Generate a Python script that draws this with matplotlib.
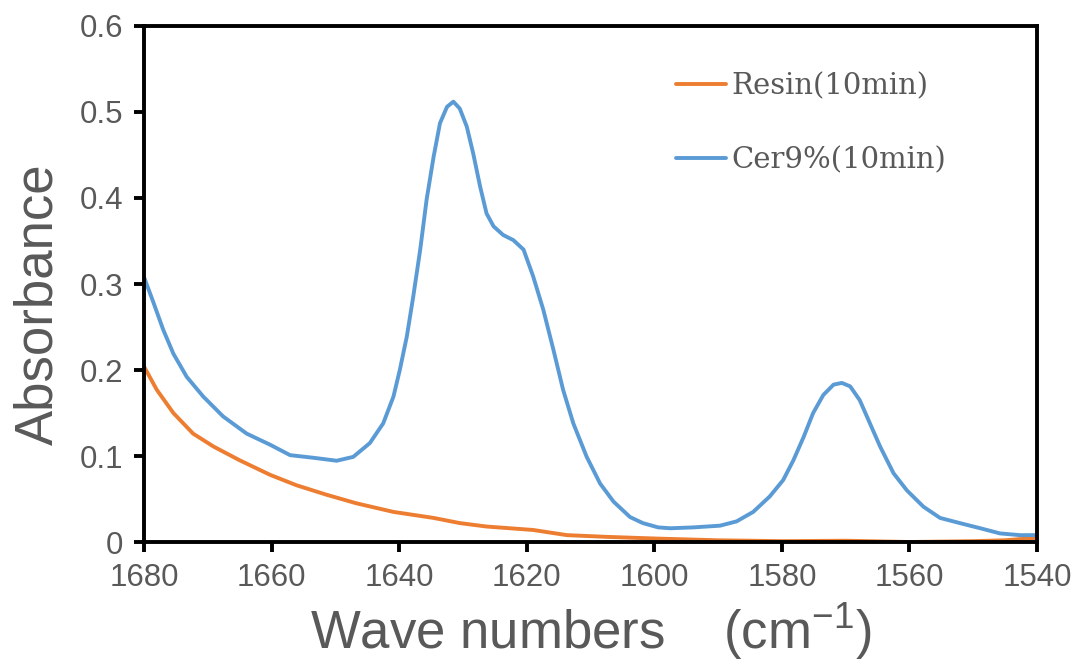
import numpy as np
import matplotlib.pyplot as plt
from matplotlib.ticker import FuncFormatter

# numeros de onda (cm-1) y absorbancia
onda_cer = [1680, 1678.5, 1677.0, 1675.4, 1673.3, 1670.7, 1667.6, 1663.9, 1660.2, 1657.1,
            1653.5, 1649.8, 1647.2, 1644.6, 1642.5, 1640.9, 1639.9, 1638.8, 1637.8, 1636.7,
            1635.7, 1634.6, 1633.6, 1632.5, 1631.5, 1630.5, 1629.4, 1628.4, 1627.3, 1626.3,
            1625.2, 1623.7, 1622.1, 1620.5, 1619.0, 1617.4, 1615.8, 1614.3, 1612.7, 1610.6,
            1608.5, 1606.4, 1603.8, 1601.8, 1599.4, 1597.5, 1593.9, 1589.7, 1587.1, 1584.5,
            1581.9, 1579.8, 1578.2, 1576.6, 1575.1, 1573.5, 1571.9, 1570.6, 1569.3, 1567.8,
            1566.2, 1564.6, 1562.5, 1560.4, 1557.8, 1555.2, 1552.1, 1548.9, 1545.8, 1542.7,
            1540]
abs_cer = [0.308, 0.278, 0.247, 0.219, 0.192, 0.169, 0.146, 0.126, 0.113, 0.101,
           0.098, 0.0945, 0.099, 0.115, 0.138, 0.169, 0.200, 0.239, 0.285, 0.340,
           0.398, 0.448, 0.487, 0.506, 0.512, 0.504, 0.483, 0.452, 0.413, 0.382,
           0.367, 0.357, 0.351, 0.340, 0.309, 0.270, 0.223, 0.177, 0.138, 0.099,
           0.068, 0.047, 0.029, 0.022, 0.017, 0.016, 0.017, 0.019, 0.024, 0.035,
           0.053, 0.072, 0.095, 0.122, 0.150, 0.171, 0.183, 0.185, 0.181, 0.165,
           0.138, 0.111, 0.080, 0.060, 0.041, 0.028, 0.022, 0.016, 0.010, 0.008,
           0.008]

onda_resina = [1680, 1678.0, 1675.4, 1672.3, 1669.1, 1665.0, 1660.2, 1656.1, 1651.4, 1646.7,
               1640.9, 1634.6, 1630.5, 1626.3, 1619.0, 1613.7, 1607.5, 1599.6, 1590, 1580,
               1570, 1560, 1550, 1545, 1540]
abs_resina = [0.204, 0.177, 0.150, 0.126, 0.111, 0.095, 0.078, 0.066, 0.055, 0.045,
              0.035, 0.028, 0.022, 0.018, 0.014, 0.008, 0.006, 0.004, 0.002, 0.001,
              0.0015, 0.000, 0.001, 0.002, 0.005]

etiquetas = ['Resin(10min)', 'Cer9%(10min)']
xticks = [1680, 1660, 1640, 1620, 1600, 1580, 1560, 1540]
yticks = [0, 0.1, 0.2, 0.3, 0.4, 0.5, 0.6]

gris = '#595959'
plt.rcParams['font.family'] = ['Liberation Sans', 'DejaVu Sans']
plt.rcParams['mathtext.fontset'] = 'custom'
plt.rcParams['mathtext.rm'] = 'Liberation Sans'
plt.rcParams['mathtext.it'] = 'Liberation Sans'

fig = plt.figure(figsize=(10.78, 6.68), dpi=100)
ax = fig.add_axes([0.1336, 0.1886, 0.8284, 0.7725])

ax.plot(onda_resina, abs_resina, color='#ED7D31', lw=2.8, label=etiquetas[0],
        solid_joinstyle='round', solid_capstyle='round')
ax.plot(onda_cer, abs_cer, color='#5B9BD5', lw=2.8, label=etiquetas[1],
        solid_joinstyle='round', solid_capstyle='round')

ax.set_xlim(1680, 1540)
ax.set_ylim(0, 0.6)
ax.set_xticks(xticks)
ax.set_yticks(yticks)
ax.yaxis.set_major_formatter(FuncFormatter(lambda v, p: '0' if v == 0 else f'{v:.1f}'))

for s in ax.spines.values():
    s.set_linewidth(2.8)
    s.set_color('black')
ax.tick_params(direction='out', length=7, width=2.8, labelsize=22.5, labelcolor=gris, pad=8)

ax.set_xlabel(r'Wave numbers    (cm$^{-1}$)', fontsize=38, color=gris, labelpad=6)
ax.set_ylabel('Absorbance', fontsize=38, color=gris)
ax.yaxis.set_label_coords(-0.09, 0.46)

leg = ax.legend(loc='upper left', bbox_to_anchor=(0.596, 0.911), frameon=False,
                prop={'family': 'DejaVu Serif', 'size': 21}, handlelength=1.7,
                handletextpad=0.2, labelspacing=1.6, borderpad=0, borderaxespad=0)
for t in leg.get_texts():
    t.set_color(gris)

fig.savefig('out.png', dpi=100)
